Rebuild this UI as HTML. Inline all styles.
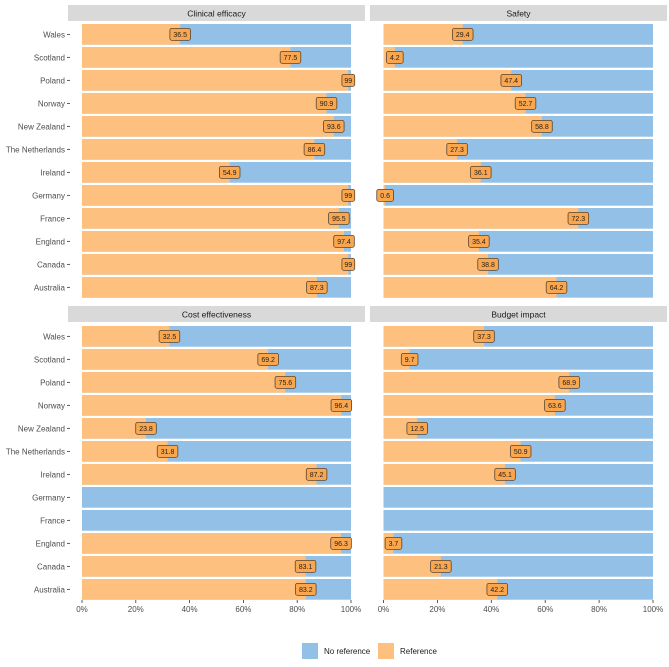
<!DOCTYPE html>
<html><head><meta charset="utf-8"><style>
body{margin:0;background:#fff;font-family:"Liberation Sans",sans-serif}
svg text{font-family:"Liberation Sans",sans-serif}
</style></head><body>
<svg id="chart" width="669" height="662" xmlns="http://www.w3.org/2000/svg"></svg>
<script>
const countries=["Wales","Scotland","Poland","Norway","New Zealand","The Netherlands","Ireland","Germany","France","England","Canada","Australia"];
const panelTitles=["Clinical efficacy","Safety","Cost effectiveness","Budget impact"];
const clinical=[36.5,77.5,99,90.9,93.6,86.4,54.9,99,95.5,97.4,99,87.3];
const safety=[29.4,4.2,47.4,52.7,58.8,27.3,36.1,0.6,72.3,35.4,38.8,64.2];
const cost=[32.5,69.2,75.6,96.4,23.8,31.8,87.2,null,null,96.3,83.1,83.2];
const budget=[37.3,9.7,68.9,63.6,12.5,50.9,45.1,null,null,3.7,21.3,42.2];
const ticks=[0,20,40,60,80,100];
const series=[clinical,safety,cost,budget];
const NS="http://www.w3.org/2000/svg";
const svg=document.getElementById('chart');
function mk(t,a,p){const e=document.createElementNS(NS,t);for(const k in a)e.setAttribute(k,a[k]);(p||svg).appendChild(e);return e;}
const BLUE="#92c0e6",ORANGE="#fdc07f";
const panels=[{x0:82,x1:351,sx:68,sx1:365,top:24,strip:5},{x0:383.5,x1:653,sx:370,sx1:667,top:24,strip:5},
{x0:82,x1:351,sx:68,sx1:365,top:326,strip:306},{x0:383.5,x1:653,sx:370,sx1:667,top:326,strip:306}];
const pitch=23,bh=20.7;
panels.forEach((p,pi)=>{
  const g=mk('g',{});
  
  
  const xs=v=>p.x0+v/100*(p.x1-p.x0);
  const st=mk('rect',{x:p.sx,y:p.strip,width:p.sx1-p.sx,height:16,fill:"#d9d9d9"},g);
  
  
  const tt=mk('text',{x:(p.sx+p.sx1)/2,y:p.strip+11.5,'text-anchor':'middle','font-size':8.5,fill:'#1a1a1a'},g);
  tt.textContent=panelTitles[pi];
  
  
  countries.forEach((c,i)=>{
    const y=p.top+i*pitch;
    const v=series[pi][i];
    const b=mk('rect',{x:xs(0),y:y,width:xs(100)-xs(0),height:bh,fill:BLUE},g);
    
    
    if(v!==null){
      const o=mk('rect',{x:xs(0),y:y,width:xs(v)-xs(0),height:bh,fill:ORANGE},g);
      
      
      const s=String(v);const w=s.length*3.9+5;
      const lb=mk('rect',{x:xs(v)-w/2,y:y+bh/2-6,width:w,height:12,rx:2,fill:'#f9a64e',stroke:'#5a4630','stroke-width':0.8},g);
      
      
      const lt=mk('text',{x:xs(v),y:y+bh/2+2.6,'text-anchor':'middle','font-size':7,fill:'#222'},g);
      lt.textContent=s;
      
      
    }
    if(pi%2===0){
      const yl=mk('text',{x:65,y:y+bh/2+3,'text-anchor':'end','font-size':8,fill:'#4d4d4d'},g);
      yl.textContent=c;
      
      
      const tk=mk('line',{x1:67,x2:70,y1:y+bh/2,y2:y+bh/2,stroke:'#333','stroke-width':0.8},g);
      
      
    }
  });
  if(pi>=2){
    ticks.forEach(t=>{
      const tk=mk('line',{x1:xs(t),x2:xs(t),y1:600,y2:603,stroke:'#333','stroke-width':0.8},g);
      
      
      const tl=mk('text',{x:xs(t),y:612,'text-anchor':'middle','font-size':8,fill:'#4d4d4d'},g);
      tl.textContent=t+'%';
      
      
    });
  }
});
const leg=mk('g',{});


const k1=mk('rect',{x:302,y:643,width:16,height:16,fill:BLUE},leg);


const t1=mk('text',{x:324,y:654,'font-size':8,fill:'#1a1a1a'},leg);t1.textContent='No reference';


const k2=mk('rect',{x:378,y:643,width:16,height:16,fill:ORANGE},leg);


const t2=mk('text',{x:400,y:654,'font-size':8,fill:'#1a1a1a'},leg);t2.textContent='Reference';


</script>
</body></html>
